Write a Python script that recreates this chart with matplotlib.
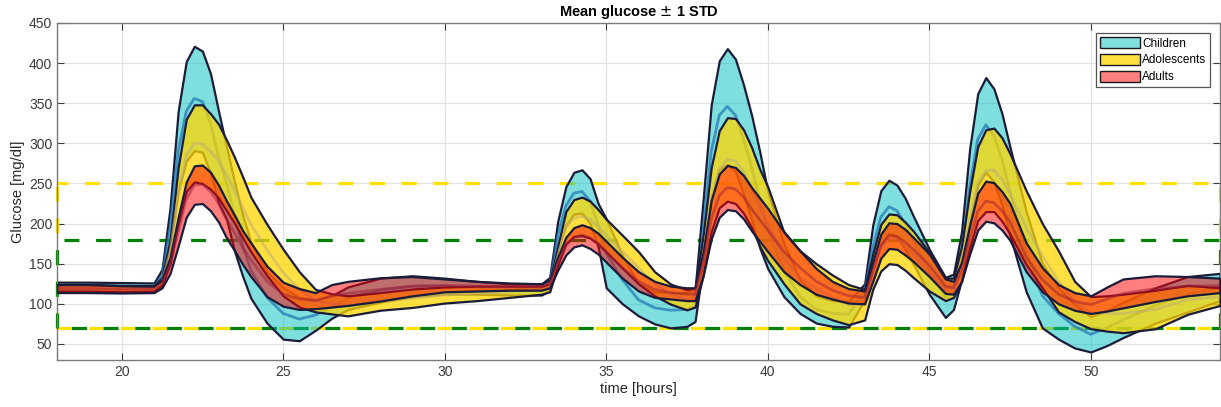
import matplotlib
matplotlib.use('Agg')
import matplotlib.pyplot as plt
from matplotlib.patches import Patch
import numpy as np

plt.rcParams['font.family'] = ['Liberation Sans', 'DejaVu Sans']
plt.rcParams['lines.scale_dashes'] = False

# time grid [hours]
t = [18, 19, 20, 21,
     21.25, 21.5, 21.75, 22, 22.25, 22.5, 22.75, 23, 23.25, 23.5, 23.75, 24, 24.5, 25, 25.5, 26, 26.5, 27,
     28, 29, 30, 31, 32, 33,
     33.25, 33.5, 33.75, 34, 34.25, 34.5, 34.75, 35, 35.5, 36, 36.5, 37, 37.5,
     37.75, 38, 38.25, 38.5, 38.75, 39, 39.25, 39.5, 39.75, 40, 40.5, 41, 41.5, 42, 42.5,
     43, 43.25, 43.5, 43.75, 44, 44.25, 44.5, 45, 45.5, 45.75,
     46, 46.25, 46.5, 46.75, 47, 47.25, 47.5, 48, 48.5, 49, 49.5, 50, 50.5, 51, 52, 53, 54]

# Children mean / std
child_mean = [121, 121, 121, 121,
              135, 195, 290, 340, 356, 352, 325, 283, 250, 208, 172, 142, 108, 88, 81, 86, 96, 107,
              117, 122, 122, 120, 118, 118,
              125, 185, 222, 238, 240, 228, 198, 163, 130, 105, 95, 92, 93,
              98, 190, 290, 335, 346, 335, 305, 270, 230, 192, 142, 109, 93, 88, 87,
              115, 170, 208, 221, 216, 200, 180, 140, 108, 115,
              160, 245, 305, 323, 310, 280, 240, 165, 110, 88, 72, 62, 70, 80, 98, 112, 121]
child_std = [6, 6, 5.5, 5,
             8, 25, 50, 62, 65, 63, 62, 57, 45, 43, 38, 35, 32, 32, 27, 19, 14, 14,
             15, 13, 10, 8, 7, 7,
             8, 18, 24, 26, 27, 28, 27, 43, 30, 20, 20, 22, 21,
             20, 40, 58, 68, 72, 70, 68, 65, 60, 48, 33, 21, 17, 16, 16,
             10, 28, 33, 33, 32, 32, 30, 28, 25, 22,
             30, 48, 57, 59, 58, 57, 55, 50, 40, 32, 27, 22, 22, 22, 22, 22, 17]

# Adolescents mean / std
adol_mean = [120, 120, 119, 119,
             128, 165, 235, 285, 300, 299, 290, 278, 260, 241, 220, 199, 167, 139, 118, 104, 100, 97.5,
             103, 107, 111, 113, 115, 117,
             120, 160, 195, 207, 209, 205, 196, 185, 165, 145, 125, 112, 105,
             108, 160, 230, 268, 280, 278, 265, 245, 220, 200, 157, 133, 119, 108, 99,
             99, 140, 170, 181, 180, 172, 162, 140, 118, 120,
             150, 205, 250, 266, 267, 255, 237, 195, 160, 128, 103, 89, 88, 88, 93, 105, 109]
adol_std = [4, 4, 4, 3.5,
            5, 15, 35, 45, 48, 49, 47, 46, 44, 41, 38, 34, 32, 29, 22, 14, 12.5, 12.5,
            11, 11.5, 10, 9, 7, 5,
            5, 12, 20, 23, 24, 23, 21.5, 20.5, 20.5, 20, 15, 12.5, 12.5,
            12, 25, 40, 48, 52, 53, 52, 50, 48, 46, 32, 33, 31, 28, 25,
            19, 22, 29, 31, 31, 30, 29, 24, 14, 12,
            22, 35, 46, 51, 52, 52, 50, 46, 40, 38, 25, 20, 22, 24, 24, 18, 11]

# Adults mean / std
adult_mean = [119, 119, 118, 118,
              125, 148, 190, 230, 248, 249, 240, 225, 205, 188, 170, 155, 128, 112, 106, 104, 110, 113,
              118, 122, 123, 122, 121.5, 121,
              125, 150, 172, 183, 186, 182, 175, 165, 145, 128, 118, 114, 112,
              112, 150, 205, 235, 245, 243, 233, 218, 205, 192, 165, 145, 128, 117, 110,
              108, 140, 172, 185, 184, 177, 168, 148, 122, 120,
              140, 180, 215, 228, 226, 216, 202, 158, 130, 112, 103, 99, 106, 113, 119, 122, 123]
adult_std = [5, 5, 4.5, 4,
             5, 10, 18, 22, 24, 24, 24, 23, 23, 22, 21, 21, 19, 15, 13, 10, 14, 15,
             14.5, 12, 8, 6, 4.5, 4,
             5, 8, 11, 12, 12.5, 13, 13, 13, 13, 12, 10, 8, 8,
             8, 15, 24, 27, 27.5, 27, 27, 27, 27, 27, 25, 21, 16, 11, 9,
             8, 12, 15, 16, 16, 16, 15, 14, 9, 8,
             12, 18, 23, 25, 25, 24, 23, 18, 15, 12, 11, 11, 15, 18, 16, 12, 9]

groups = ['Children', 'Adolescents', 'Adults']
face_cols = [(0, 0.75, 0.75, 0.5), (1, 0.84, 0, 0.75), (1, 0, 0, 0.5)]
mean_cols = [(0.12, 0.45, 0.70, 0.7), (0.75, 0.68, 0.45, 0.55), (0.62, 0.12, 0.22, 0.5)]
edge_col = '#1b1b3a'

hypo, hyper_lo, hyper_hi = 70, 180, 250

fig = plt.figure(figsize=(12.21, 4.07), dpi=100)
ax = fig.add_axes([0.0467, 0.1155, 0.9525, 0.828])

# target range boxes (dashed)
dash_on, dash_off = 10.8, 12.0
per = dash_on + dash_off
ax.plot([18, 54], [hyper_hi, hyper_hi], color='#ffe000', lw=2.3,
        ls=(3, (dash_on, dash_off)), zorder=1)
ax.plot([18, 54], [hyper_lo, hyper_lo], color='#008000', lw=2.3,
        ls=(per - 5, (dash_on, dash_off)), zorder=1)
ax.plot([18, 54], [hypo, hypo], color='#ffe000', lw=2.3,
        ls=(0, (dash_on, dash_off)), zorder=1)
ax.plot([18, 54], [hypo, hypo], color='#008000', lw=2.3,
        ls=(per / 2 + 1, (dash_on, dash_off)), zorder=1)
for xe in [18, 54]:
    ax.plot([xe, xe], [hypo, hyper_hi], color='#ffe000', lw=2.3,
            ls=(0, (dash_on, dash_off)), zorder=1, clip_on=False)
    ax.plot([xe, xe], [hypo, hyper_lo], color='#008000', lw=2.3,
            ls=(0, (dash_on, dash_off)), zorder=1, clip_on=False)

series = [(child_mean, child_std), (adol_mean, adol_std), (adult_mean, adult_std)]
tt = np.array(t)
z = 2
for (m, s), fc, mc in zip(series, face_cols, mean_cols):
    m = np.array(m, dtype=float)
    s = np.array(s, dtype=float)
    pc = ax.fill_between(tt, m - s, m + s, facecolor=fc, edgecolor=edge_col,
                         linewidth=1.6, zorder=z)
    pc.set_joinstyle('round')
    ax.plot(tt, m, color=mc, lw=2, zorder=z + 0.5, solid_joinstyle='round')
    z += 1

ax.set_xlim(18, 54)
ax.set_ylim(30, 450)
ax.set_xticks([20, 25, 30, 35, 40, 45, 50])
ax.set_yticks(range(50, 451, 50))
ax.grid(True, color='#e2e2e2', lw=0.9, zorder=0)
ax.set_axisbelow(True)
ax.tick_params(direction='in', length=5, top=True, right=True,
               labelsize=10, colors='#3a3a3a', width=0.8)
for sp in ax.spines.values():
    sp.set_color('#7a7a7a')
    sp.set_linewidth(1)
ax.set_xlabel('time [hours]', fontsize=10.5, color='#262626', labelpad=2)
ax.set_ylabel('Glucose [mg/dl]', fontsize=10.5, color='#262626', labelpad=3)
ax.set_title('Mean glucose $\\pm$ 1 STD', fontsize=10.5, fontweight='bold', pad=5)

handles = [Patch(facecolor=fc, edgecolor='#1a1a1a', linewidth=1) for fc in face_cols]
leg = ax.legend(handles, groups, loc='upper right', bbox_to_anchor=(0.9914, 0.969),
                fontsize=8.5, fancybox=False, framealpha=1, edgecolor='#555555',
                handlelength=3.4, handleheight=1.1, handletextpad=0.2,
                borderpad=0.3, labelspacing=0.35, borderaxespad=0)
leg.get_frame().set_linewidth(0.9)

fig.savefig('out.png', dpi=100)
